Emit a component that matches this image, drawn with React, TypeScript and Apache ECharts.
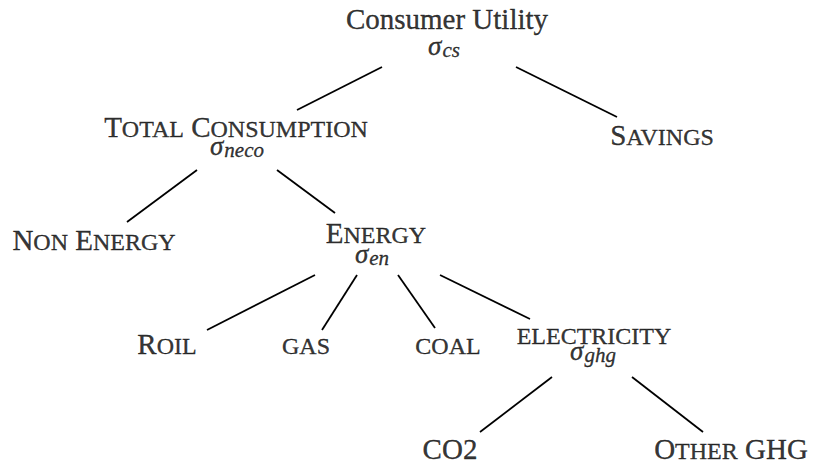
import React, { useEffect, useRef } from "react";
import * as echarts from "echarts";

// ---- Data ----
const nodeNames = [
  "Consumer Utility",
  "Total Consumption",
  "Savings",
  "Non Energy",
  "Energy",
  "Roil",
  "gas",
  "coal",
  "electricity",
  "CO2",
  "Other GHG",
];
// "roman" = upright text, "sc" = small caps
const nodeStyles = ["roman", "sc", "sc", "sc", "sc", "sc", "sc", "sc", "sc", "roman", "sc"];
const nodeSigma = ["cs", "neco", "", "", "en", "", "", "", "ghg", "", ""];

// ---- Layout (node label anchor: centre x, text baseline y) ----
const nodeX = [447, 236, 662, 94, 376, 167, 306, 448, 594, 450, 731];
const nodeBaseline = [29, 137, 145, 250, 243, 354, 354, 354, 344, 459, 459];
const sigmaX = [444, 237, 0, 0, 372, 0, 0, 0, 593, 0, 0];
const sigmaBaseline = [55, 155, 0, 0, 263, 0, 0, 0, 360, 0, 0];

// ---- Edges ----
const edgeFrom = [0, 0, 1, 1, 4, 4, 4, 4, 8, 8];
const edgeTo = [1, 2, 3, 4, 5, 6, 7, 8, 9, 10];
const edgeStart = [
  [382, 67], [516, 67], [197, 170], [277, 170], [315, 275],
  [357, 275], [398, 275], [440, 275], [552, 377], [632, 377],
];
const edgeEnd = [
  [297, 110], [617, 117], [127, 222], [335, 213], [207, 330],
  [322, 330], [435, 328], [530, 319], [480, 432], [703, 432],
];

const FONT = "'Liberation Serif', 'Times New Roman', serif";
const BIG = 29;
const SMALL = 24;
const INK = "#000000";

function smallCaps(text: string): string {
  let out = "";
  let cur = "";
  let curKind = "";
  const flush = () => {
    if (cur) out += `{${curKind}|${curKind === "s" ? cur.toUpperCase() : cur}}`;
    cur = "";
  };
  for (const ch of text) {
    const kind = ch >= "a" && ch <= "z" ? "s" : "b";
    if (kind !== curKind) {
      flush();
      curKind = kind;
    }
    cur += ch;
  }
  flush();
  return out;
}

export default function App() {
  const ref = useRef<HTMLDivElement>(null);
  useEffect(() => {
    if (!ref.current) return;
    const chart = echarts.init(ref.current, undefined, { renderer: "svg" });

    const ink = { color: INK, textBorderColor: INK, textBorderWidth: 0.35 };
    const rich = {
      b: { fontFamily: FONT, fontSize: BIG, height: 20, verticalAlign: "bottom", ...ink },
      s: { fontFamily: FONT, fontSize: SMALL, height: 16, verticalAlign: "bottom", ...ink },
      r: { fontFamily: FONT, fontSize: BIG, height: 20, verticalAlign: "bottom", ...ink },
      sig: {
        fontFamily: FONT, fontSize: 27, fontStyle: "italic", height: 13,
        verticalAlign: "bottom", padding: [0, 1, 3, 0], ...ink,
      },
      sub: {
        fontFamily: FONT, fontSize: 21, fontStyle: "italic", height: 10,
        verticalAlign: "bottom", ...ink,
      },
    };

    const nameData = nodeNames.map((n, i) => ({
      value: [nodeX[i], nodeBaseline[i]],
      label: {
        offset: [0, 0.2],
        formatter: nodeStyles[i] === "sc" ? smallCaps(n) : `{r|${n}}`,
      },
    }));
    const sigmaData = nodeSigma
      .map((s, i) => ({ s, i }))
      .filter((d) => d.s)
      .map(({ s, i }) => ({
        value: [sigmaX[i], sigmaBaseline[i]],
        label: { offset: [0, 0.4], formatter: `{sig|σ}{sub|${s}}` },
      }));

    const lineData = edgeFrom.map((f, k) => ({
      name: `${nodeNames[f]} → ${nodeNames[edgeTo[k]]}`,
      coords: [edgeStart[k], edgeEnd[k]],
    }));

    const labelBase = {
      show: true,
      position: "top",
      distance: 0,
      align: "center",
      rich,
    };

    chart.setOption({
      animation: false,
      backgroundColor: "#ffffff",
      grid: { left: 0, right: 0, top: 0, bottom: 0 },
      xAxis: { type: "value", min: 0, max: 818, show: false },
      yAxis: { type: "value", min: 0, max: 463, inverse: true, show: false },
      series: [
        {
          type: "lines",
          coordinateSystem: "cartesian2d",
          silent: true,
          lineStyle: { color: INK, width: 1.8, opacity: 1, curveness: 0 },
          data: lineData,
        },
        {
          type: "scatter",
          silent: true,
          clip: false,
          symbolSize: 0.1,
          itemStyle: { color: "rgba(0,0,0,0)" },
          label: labelBase,
          data: nameData,
        },
        {
          type: "scatter",
          silent: true,
          clip: false,
          symbolSize: 0.1,
          itemStyle: { color: "rgba(0,0,0,0)" },
          label: labelBase,
          data: sigmaData,
        },
      ],
    });
    return () => chart.dispose();
  }, []);

  return (
    <div
      ref={ref}
      style={{ position: "absolute", left: 0, top: 0, width: 818, height: 463, background: "#fff" }}
    />
  );
}
